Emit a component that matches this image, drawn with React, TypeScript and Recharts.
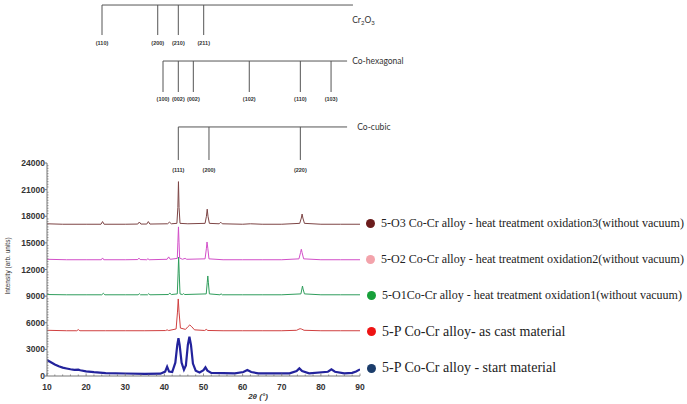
import {
  ComposedChart,
  Line,
  XAxis,
  YAxis,
  Legend,
  ReferenceLine,
  ReferenceDot,
} from 'recharts';

// 2theta (deg) / intensity (counts) pairs
const o3Scan: [number, number][] = [
  [10, 17150], [14, 17100], [20, 17100], [23.8, 17100], [24.2, 17400], [24.6, 17100],
  [30, 17100], [33.2, 17120], [33.6, 17350], [34, 17120], [35.5, 17120], [35.9, 17400],
  [36.3, 17120], [40.8, 17150], [41.3, 17330], [41.8, 17150], [43.2, 17200], [43.45, 19000],
  [43.6, 21900], [43.75, 19000], [44.0, 17200], [46, 17150], [50.4, 17200], [50.75, 18000],
  [50.95, 18800], [51.15, 18000], [51.5, 17200], [54.0, 17150], [54.4, 17330], [54.8, 17150],
  [60, 17100], [62, 17150], [65, 17100], [70, 17100], [74.6, 17200], [75.0, 17800],
  [75.2, 18250], [75.4, 17800], [75.8, 17200], [80, 17100], [85, 17100], [90, 17100],
];

const o2Scan: [number, number][] = [
  [10, 13150], [15, 13100], [20, 13100], [23.9, 13100], [24.2, 13300], [24.5, 13100],
  [30, 13100], [33.2, 13120], [33.5, 13280], [33.8, 13120], [35.5, 13100], [35.8, 13220],
  [36.1, 13100], [40.7, 13150], [41.1, 13420], [41.5, 13150], [43.3, 13250], [43.45, 15000],
  [43.6, 16800], [43.75, 15000], [43.9, 13300], [44.6, 13150], [45.3, 13250], [45.7, 13150],
  [50.4, 13200], [50.75, 14400], [50.9, 15100], [51.1, 14400], [51.4, 13200], [55, 13100],
  [60, 13100], [65, 13100], [70, 13100], [74.4, 13200], [74.8, 13900], [75.0, 14280],
  [75.2, 13900], [75.6, 13200], [80, 13100], [85, 13100], [90, 13100],
];

const o1Scan: [number, number][] = [
  [10, 9180], [15, 9150], [20, 9150], [24.0, 9150], [24.4, 9320], [24.8, 9150],
  [30, 9150], [33.3, 9150], [33.6, 9280], [33.9, 9150], [35.7, 9150], [36.0, 9280],
  [36.3, 9150], [41.0, 9180], [41.4, 9330], [41.8, 9180], [43.3, 9250], [43.5, 11500],
  [43.65, 13400], [43.8, 11500], [44.0, 9250], [44.6, 9180], [44.9, 9280], [45.2, 9180],
  [50.7, 9250], [50.95, 10500], [51.1, 11270], [51.25, 10500], [51.5, 9250], [54.2, 9150],
  [54.5, 9260], [54.8, 9150], [60, 9150], [65, 9150], [70, 9150], [74.9, 9250],
  [75.15, 9800], [75.3, 10140], [75.45, 9800], [75.8, 9250], [80, 9150], [85, 9150], [90, 9150],
];

const castScan: [number, number][] = [
  [10, 5150], [15, 5100], [17.6, 5100], [18.0, 5230], [18.4, 5100], [25, 5100],
  [30, 5100], [35, 5100], [40.3, 5120], [40.7, 5200], [41.1, 5120], [43.0, 5300],
  [43.35, 7200], [43.55, 8680], [43.75, 7200], [44.1, 5400], [45.4, 5250], [46.0, 5550],
  [46.5, 5750], [47.0, 5550], [47.7, 5200], [50.3, 5130], [50.7, 5250], [51.1, 5130],
  [55, 5100], [60, 5100], [65, 5100], [70, 5100], [73.8, 5150], [74.4, 5280],
  [74.7, 5330], [75.1, 5280], [75.7, 5150], [80, 5100], [85, 5100], [90, 5100],
];

const startScan: [number, number][] = [
  [10, 1800], [11, 1550], [12, 1300], [13, 1100], [14, 950], [15, 850], [16, 760],
  [17, 700], [18, 720], [18.5, 650], [20, 520], [22, 430], [25, 330], [30, 280],
  [35, 240], [39, 260], [40.2, 500], [40.7, 1050], [41.2, 500], [42, 450], [42.8, 1500],
  [43.3, 3500], [43.6, 4250], [43.9, 3500], [44.4, 1500], [45, 700], [45.5, 1200],
  [46.0, 3500], [46.4, 4430], [46.8, 3500], [47.3, 1400], [48, 600], [49, 400],
  [50.0, 650], [50.5, 970], [51.0, 600], [52, 350], [58, 300], [60.2, 450], [61.2, 680],
  [62.2, 450], [64, 300], [72, 300], [73.8, 550], [74.5, 860], [75.2, 550], [77, 300],
  [81.8, 480], [82.7, 750], [83.6, 480], [86, 300], [88, 350], [89, 500], [90, 750],
];

// reference peak positions for the phase markers
const cr2o3Peaks = [24.06, 38.3, 43.56, 50.05];
const cr2o3Labels = ['(110)', '(200)', '(210)', '(211)'];
const hexPeaks = [39.65, 43.56, 47.4, 61.7, 74.75, 82.6];
const hexLabels = ['(100)', '(002)', '(002)', '(102)', '(110)', '(103)'];
const cubicPeaks = [43.56, 51.4, 74.75];
const cubicLabels = ['(111)', '(200)', '(220)'];

const seriesNames = [
  '5-O3 Co-Cr alloy - heat treatment oxidation3(without vacuum)',
  '5-O2 Co-Cr alloy - heat treatment oxidation2(without vacuum)',
  '5-O1Co-Cr alloy - heat treatment oxidation1(without vacuum)',
  '5-P Co-Cr alloy- as cast material',
  '5-P Co-Cr alloy - start material',
];

const toPoints = (s: [number, number][]) => s.map(([x, y]) => ({ x, y }));

const SERIES = [
  { name: seriesNames[0], data: toPoints(o3Scan), stroke: '#7d4545', dot: '#6b1c1c', width: 1, size: 12 },
  { name: seriesNames[1], data: toPoints(o2Scan), stroke: '#d24fc8', dot: '#f3a3ab', width: 1, size: 12 },
  { name: seriesNames[2], data: toPoints(o1Scan), stroke: '#2f9d5c', dot: '#17a03a', width: 1, size: 12 },
  { name: seriesNames[3], data: toPoints(castScan), stroke: '#d04040', dot: '#ee1414', width: 1, size: 14 },
  { name: seriesNames[4], data: toPoints(startScan), stroke: '#23239c', dot: '#1b3d6b', width: 2.2, size: 14 },
];

// phase marker levels (drawn above the intensity range)
const CR_TOP = 41800, CR_BOT = 38420, CR_TXT = 37520;
const HEX_TOP = 35490, HEX_BOT = 32000, HEX_TXT = 31210;
const CUB_TOP = 28060, CUB_BOT = 24340, CUB_TXT = 23210;

const AXIS = '#777';
const TICK_FONT = { fontFamily: 'Liberation Sans, Arial, sans-serif', fontSize: 8.5, fontWeight: 700, fill: '#333' };

const minorY = Array.from({ length: 81 }, (_, i) => i * 300);
const minorX = Array.from({ length: 41 }, (_, i) => 10 + i * 2);

function YTick(props: any) {
  const { x, y, payload } = props;
  const major = payload.value % 3000 === 0;
  return (
    <g>
      {major ? (
        <>
          <line x1={x - 2} x2={x} y1={y} y2={y} stroke={AXIS} />
          <text x={x - 2} y={y} dy={3} textAnchor="end" {...TICK_FONT}>
            {payload.value}
          </text>
        </>
      ) : (
        <line x1={x} x2={x + 1.5} y1={y} y2={y} stroke={AXIS} strokeWidth={0.8} />
      )}
    </g>
  );
}

function XTick(props: any) {
  const { x, y, payload } = props;
  const major = payload.value % 10 === 0;
  return (
    <g>
      <line x1={x} x2={x} y1={y} y2={y - (major ? 2.5 : 1.5)} stroke={AXIS} strokeWidth={0.8} />
      {major && (
        <text x={x} y={y + 14} textAnchor="middle" {...TICK_FONT}>
          {payload.value}
        </text>
      )}
    </g>
  );
}

const smallLabel = (text: string) => (p: any) => (
  <text
    x={p.cx}
    y={p.cy}
    dy={2}
    textAnchor="middle"
    fontFamily="Liberation Sans, Arial, sans-serif"
    fontSize={5.5}
    fontWeight={700}
    fill="#333"
  >
    {text}
  </text>
);

const phaseLabel = (children: any) => (p: any) => (
  <text x={p.cx} y={p.cy} dy={3} fontFamily="Lato, sans-serif" fontSize={8.5} fill="#333">
    {children}
  </text>
);

function renderLegend() {
  return (
    <div style={{ position: 'relative', width: 320 }}>
      {SERIES.map((s, i) => (
        <div
          key={s.name}
          style={{
            height: 36.25,
            display: 'flex',
            alignItems: 'center',
            fontFamily: '"Liberation Serif", "Times New Roman", serif',
            fontSize: s.size,
            color: '#222',
            whiteSpace: 'nowrap',
            marginLeft: i >= 2 ? 1 : 0,
          }}
        >
          <span
            style={{
              display: 'inline-block',
              width: 9,
              height: 9,
              borderRadius: '50%',
              background: s.dot,
              marginRight: 6,
            }}
          />
          {s.name}
        </div>
      ))}
    </div>
  );
}

function markerSet(peaks: number[], labels: string[], top: number, bot: number, txt: number, end: number, key: string) {
  return [
    <ReferenceLine
      key={key + 'h'}
      segment={[{ x: peaks[0], y: top }, { x: end, y: top }]}
      stroke="#555"
      strokeWidth={1}
      ifOverflow="visible"
    />,
    ...peaks.map((p, i) => (
      <ReferenceLine
        key={key + 'v' + i}
        segment={[{ x: p, y: top }, { x: p, y: bot }]}
        stroke="#555"
        strokeWidth={1}
        ifOverflow="visible"
      />
    )),
    ...peaks.map((p, i) => (
      <ReferenceDot
        key={key + 't' + i}
        x={p}
        y={txt}
        r={0}
        ifOverflow="visible"
        shape={smallLabel(labels[i])}
      />
    )),
  ];
}

export default function App() {
  return (
    <div style={{ position: 'absolute', left: 0, top: 0, width: 687, height: 404, background: '#fff' }}>
      <ComposedChart width={687} height={404} margin={{ top: 163, right: 327, bottom: 0, left: 7 }}>
        <XAxis
          dataKey="x"
          type="number"
          domain={[10, 90]}
          allowDataOverflow
          ticks={minorX}
          interval={0}
          tickLine={false}
          tickSize={0}
          tickMargin={0}
          tick={<XTick />}
          stroke={AXIS}
          height={28}
        />
        <YAxis
          type="number"
          domain={[0, 24000]}
          allowDataOverflow
          ticks={minorY}
          interval={0}
          tickLine={false}
          tickSize={0}
          tickMargin={0}
          tick={<YTick />}
          stroke={AXIS}
          width={40}
        />
        {SERIES.slice()
          .reverse()
          .map(s => (
            <Line
              key={s.name}
              data={s.data}
              dataKey="y"
              name={s.name}
              type="linear"
              stroke={s.stroke}
              strokeWidth={s.width}
              dot={false}
              activeDot={false}
              isAnimationActive={false}
            />
          ))}
        {markerSet(cr2o3Peaks, cr2o3Labels, CR_TOP, CR_BOT, CR_TXT, 88.2, 'cr')}
        {markerSet(hexPeaks, hexLabels, HEX_TOP, HEX_BOT, HEX_TXT, 86.7, 'hex')}
        {markerSet(cubicPeaks, cubicLabels, CUB_TOP, CUB_BOT, CUB_TXT, 86.7, 'cub')}
        <ReferenceDot
          x={88.0}
          y={40100}
          r={0}
          ifOverflow="visible"
          shape={phaseLabel(
            <>
              Cr<tspan fontSize={6} dy={1.5}>2</tspan>
              <tspan dy={-1.5}>O</tspan>
              <tspan fontSize={6} dy={1.5}>3</tspan>
            </>
          )}
        />
        <ReferenceDot x={88.0} y={35490} r={0} ifOverflow="visible" shape={phaseLabel('Co-hexagonal')} />
        <ReferenceDot x={89.3} y={28060} r={0} ifOverflow="visible" shape={phaseLabel('Co-cubic')} />
        <Legend
          layout="horizontal"
          verticalAlign="middle"
          align="center"
          content={renderLegend}
          wrapperStyle={{ position: 'absolute', left: 366, top: 205, width: 320 }}
        />
        <text
          x={258}
          y={399}
          textAnchor="middle"
          fontFamily="Liberation Sans, Arial, sans-serif"
          fontSize={8}
          fontStyle="italic"
          fontWeight={700}
          fill="#333"
        >
          2θ (°)
        </text>
        <text
          transform="translate(10 266) rotate(-90)"
          textAnchor="middle"
          fontFamily="Liberation Sans, Arial, sans-serif"
          fontSize={6.5}
          fill="#333"
        >
          Intensity (arb. units)
        </text>
      </ComposedChart>
    </div>
  );
}
